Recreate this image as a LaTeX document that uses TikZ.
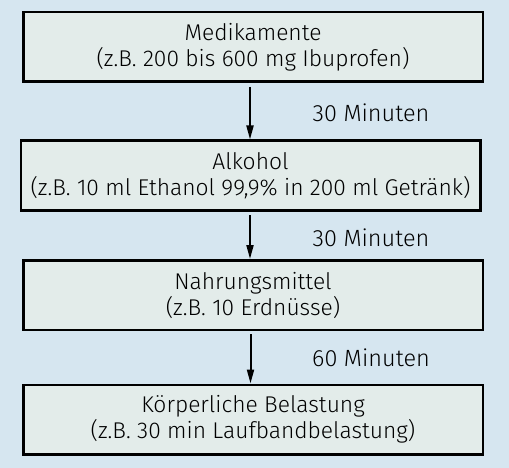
\documentclass[tikz,border=0pt]{standalone}
\usepackage{fontspec}
\setmainfont{Fira Sans Light}
\usetikzlibrary{arrows.meta}
\definecolor{bgblue}{HTML}{D6E6F0}
\definecolor{boxfill}{HTML}{E3ECEA}
\begin{document}
\begin{tikzpicture}[x=1pt,y=-1pt,
  stepbox/.style={draw=black,line width=2.5pt,fill=boxfill,minimum height=69.5pt,minimum width=459.5pt,inner sep=0pt,align=center,font=\fontsize{22.8}{26}\selectfont},
  flow/.style={line width=2pt,-{Triangle[length=14pt,width=7pt]}},
  timelabel/.style={font=\fontsize{23.5}{26}\selectfont}]
\fill[bgblue] (0,0) rectangle (509,468);
\useasboundingbox (0,0) rectangle (509,468);
\node[stepbox] (b1) at (253,47) {Medikamente\\(z.B. 200 bis 600 mg Ibuprofen)};
\node[stepbox] (b2) at (250.5,175.5) {Alkohol\\(z.B. 10 ml Ethanol 99,9\% in 200 ml Getränk)};
\node[stepbox] (b3) at (253,295) {Nahrungsmittel\\(z.B. 10 Erdnüsse)};
\node[stepbox] (b4) at (253,419.5) {Körperliche Belastung\\(z.B. 30 min Laufbandbelastung)};
\coordinate (a1s) at (250,87);
\coordinate (a2s) at (250,215);
\coordinate (a3s) at (250.5,334);
\draw[flow] (a1s) -- (b2.north -| a1s);
\draw[flow] (a2s) -- (b3.north -| a2s);
\draw[flow] (a3s) -- (b4.north -| a3s);
\node[timelabel] (t1) at (371,113) {30 Minuten};
\node[timelabel] (t2) at (371,238) {30 Minuten};
\node[timelabel] (t3) at (371,358) {60 Minuten};
\end{tikzpicture}
\end{document}
